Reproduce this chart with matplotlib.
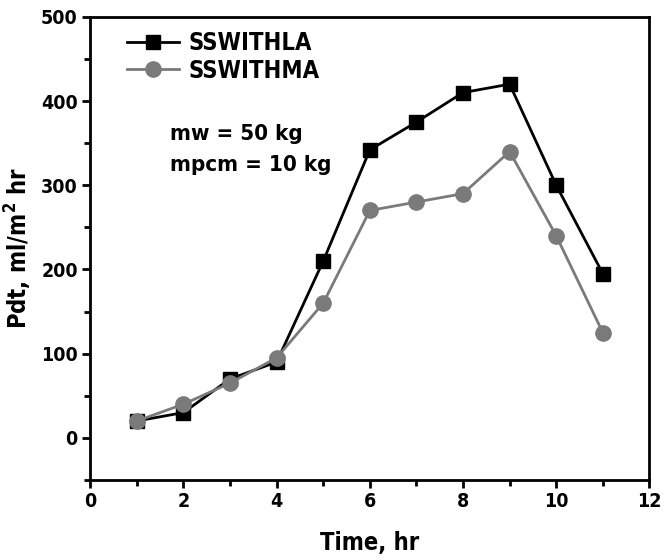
import matplotlib
matplotlib.use('Agg')
import matplotlib.pyplot as plt
from matplotlib.ticker import MultipleLocator

# Zeit in Stunden und Werte beider Varianten
time_hr = [1, 2, 3, 4, 5, 6, 7, 8, 9, 10, 11]
pdt_la = [20, 30, 70, 90, 210, 342, 375, 410, 420, 300, 195]
pdt_ma = [20, 40, 65, 95, 160, 270, 280, 290, 340, 240, 125]

plt.rcParams['font.family'] = ['DejaVu Sans']
plt.rcParams['font.stretch'] = 'condensed'
plt.rcParams['font.weight'] = 'bold'
plt.rcParams['axes.labelweight'] = 'bold'
plt.rcParams['font.size'] = 14

fig = plt.figure(figsize=(6.64, 5.6), dpi=100)
ax = fig.add_axes([0.136, 0.143, 0.842, 0.827])

ax.plot(time_hr, pdt_la, color='black', marker='s', markersize=10, linewidth=2, label='SSWITHLA')
ax.plot(time_hr, pdt_ma, color='#7a7a7a', marker='o', markersize=11, linewidth=2, label='SSWITHMA')

ax.set_xlim(0, 12)
ax.set_ylim(-50, 500)
ax.xaxis.set_major_locator(MultipleLocator(2))
ax.xaxis.set_minor_locator(MultipleLocator(1))
ax.yaxis.set_major_locator(MultipleLocator(100))
ax.yaxis.set_minor_locator(MultipleLocator(50))
ax.tick_params(which='major', direction='out', length=6, width=2, pad=3)
ax.tick_params(which='minor', direction='out', length=4, width=2)
for s in ax.spines.values():
    s.set_linewidth(2)

ax.set_xlabel('Time, hr', fontsize=17, labelpad=14)
ax.set_ylabel('Pdt, ml/m$^{2}$ hr', fontsize=17, labelpad=5)

ax.legend(loc='upper left', bbox_to_anchor=(0.04, 1.0), frameon=False, fontsize=17,
          handlelength=2.2, handletextpad=0.4, labelspacing=0.15, borderaxespad=0.2)
ax.text(0.143, 0.735, 'mw = 50 kg', transform=ax.transAxes, fontsize=16)
ax.text(0.143, 0.668, 'mpcm = 10 kg', transform=ax.transAxes, fontsize=16)

fig.savefig('out.png', dpi=100)
